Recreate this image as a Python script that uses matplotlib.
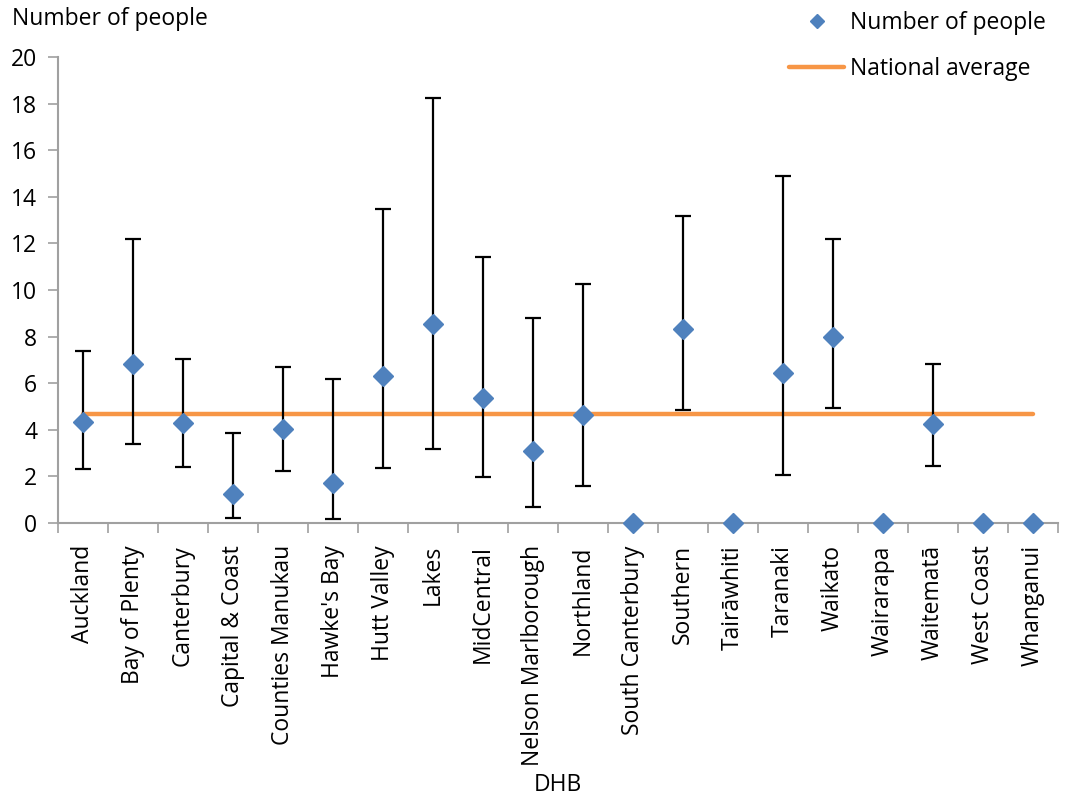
import numpy as np
import matplotlib
matplotlib.use('Agg')
import matplotlib.pyplot as plt
from matplotlib.lines import Line2D

plt.rcParams['font.family'] = ['Open Sans', 'DejaVu Sans']

# Data
dhbs = ['Auckland', 'Bay of Plenty', 'Canterbury', 'Capital & Coast', 'Counties Manukau',
        "Hawke's Bay", 'Hutt Valley', 'Lakes', 'MidCentral', 'Nelson Marlborough',
        'Northland', 'South Canterbury', 'Southern', 'Tairāwhiti', 'Taranaki',
        'Waikato', 'Wairarapa', 'Waitematā', 'West Coast', 'Whanganui']
people = [4.35, 6.82, 4.30, 1.23, 4.02, 1.70, 6.31, 8.53, 5.35, 3.10,
          4.64, 0.0, 8.31, 0.0, 6.42, 8.00, 0.0, 4.24, 0.0, 0.0]
ci_low = [2.32, 3.39, 2.39, 0.20, 2.23, 0.18, 2.35, 3.18, 1.99, 0.67,
          1.60, None, 4.85, None, 2.06, 4.94, None, 2.43, None, None]
ci_high = [7.38, 12.19, 7.04, 3.88, 6.68, 6.17, 13.46, 18.23, 11.42, 8.79,
           10.27, None, 13.16, None, 14.90, 12.20, None, 6.82, None, None]
national_avg = 4.68

blue = '#4F81BD'
orange = '#F79646'
fs = 16.5

fig = plt.figure(figsize=(10.65, 8), dpi=100)
ax = fig.add_axes([58/1065, 277/800, 1000/1065, 466/800])

x = np.arange(len(dhbs))
y = np.array(people)

# national average line
ax.plot(x, [national_avg]*len(x), color=orange, lw=3.2, solid_capstyle='round', zorder=2)

# error bars only where CI exists
idx = [i for i in range(len(dhbs)) if ci_low[i] is not None]
lo = np.array([y[i] - ci_low[i] for i in idx])
hi = np.array([ci_high[i] - y[i] for i in idx])
ax.errorbar(x[idx], y[idx], yerr=[lo, hi], fmt='none', ecolor='black',
            elinewidth=1.6, capsize=5.5, capthick=1.6, zorder=3)

# markers
ax.plot(x, y, linestyle='none', marker='D', markersize=10.5, color=blue, zorder=4, clip_on=False)

ax.set_xlim(-0.5, len(dhbs) - 0.5)
ax.set_ylim(0, 20)
ax.set_yticks(np.arange(0, 21, 2))
ax.set_xticks(x)
ax.set_xticklabels(dhbs, rotation=90, fontsize=fs)
ax.set_xticks(np.arange(-0.5, len(dhbs), 1), minor=True)
ax.tick_params(axis='x', which='major', length=0, pad=16)
ax.tick_params(axis='x', which='minor', length=7, width=1.2, color='#A0A0A0')
ax.tick_params(axis='y', labelsize=fs, length=7, width=1.2, color='#A0A0A0', pad=8)

for s in ['top', 'right']:
    ax.spines[s].set_visible(False)
for s in ['left', 'bottom']:
    ax.spines[s].set_color('#A0A0A0')
    ax.spines[s].set_linewidth(1.5)

fig.text(558/1065, 1 - 785/800, 'DHB', fontsize=fs, ha='center', va='center')
fig.text(12/1065, 1 - 19/800, 'Number of people', fontsize=fs, ha='left', va='center')

handles = [Line2D([], [], linestyle='none', marker='D', markersize=7.5, color=blue),
           Line2D([], [], color=orange, lw=3.2, solid_capstyle='round')]
fig.legend(handles, ['Number of people', 'National average'], loc='upper left',
           bbox_to_anchor=(778/1065, 1.0), frameon=False, fontsize=fs,
           handlelength=2.4, handletextpad=0.25, labelspacing=0.95, borderpad=0.0)

fig.savefig('out.png', dpi=100)
